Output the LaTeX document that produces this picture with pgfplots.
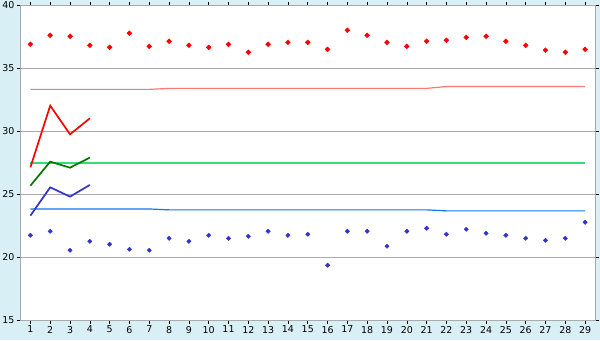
\documentclass[border=0pt]{standalone}
\usepackage{fontspec}
\setmainfont{DejaVu Sans}
\usepackage{pgfplots}
\pgfplotsset{compat=1.18}
\definecolor{bgblue}{HTML}{D9EFF6}
\definecolor{gridgray}{HTML}{AAAAAA}
\definecolor{mred}{HTML}{FF0000}
\definecolor{mblue}{HTML}{3333CC}
\definecolor{lpink}{HTML}{FF7777}
\definecolor{lgreen}{HTML}{33DD77}
\definecolor{lblue}{HTML}{1177EE}
\definecolor{dgreen}{HTML}{007700}
\begin{document}
\begin{tikzpicture}[x=1bp,y=1bp]
\fill[bgblue] (0,0) rectangle (600,340);
\path[use as bounding box] (0,0) rectangle (600,340);
\begin{axis}[
  at={(20.5bp,20bp)}, anchor=south west,
  scale only axis, width=574.5bp, height=314.7bp,
  xmin=0.5, xmax=29.5, ymin=15, ymax=40,
  xtick={1,...,29}, ytick={15,20,25,30,35,40},
  axis background/.style={fill=white},
  axis line style={gridgray, line width=1pt},
  tick style={black, line width=0.6pt},
  tick align=outside, major tick length=3.5bp,
  ymajorgrids, grid style={gridgray, line width=0.8pt},
  tick label style={font=\fontsize{9.5}{10}\selectfont},
  /pgf/number format/assume math mode=true,
  xticklabel style={yshift=1bp},
  yticklabel style={xshift=1bp},
  clip=false,
]
% horizontal reference lines
\addplot[lpink, line width=1.2pt] coordinates {(1,33.32) (7,33.32) (8,33.40) (21,33.40) (22,33.55) (29,33.55)};
\addplot[lgreen, line width=1.2pt] coordinates {(1,27.47) (29,27.47)};
\addplot[lblue, line width=1.2pt] coordinates {(1,23.82) (7,23.82) (8,23.75) (21,23.75) (22,23.67) (29,23.67)};
% short lines
\addplot[mred, line width=1.7pt] coordinates {(1,27.13) (2,32.03) (3,29.75) (4,31.02)};
\addplot[dgreen, line width=1.7pt] coordinates {(1,25.67) (2,27.58) (3,27.10) (4,27.90)};
\addplot[mblue, line width=1.7pt] coordinates {(1,23.29) (2,25.54) (3,24.80) (4,25.73)};
% markers
\addplot[only marks, mark=square*, mark size=1.75pt, mark options={rotate=45}, mred] coordinates {
(1,36.90) (2,37.62) (3,37.54) (4,36.82) (5,36.66) (6,37.78) (7,36.74) (8,37.14) (9,36.82)
(10,36.66) (11,36.90) (12,36.27) (13,36.90) (14,37.06) (15,37.06) (16,36.50) (17,38.01) (18,37.62) (19,37.06)
(20,36.74) (21,37.14) (22,37.22) (23,37.46) (24,37.54) (25,37.14) (26,36.82) (27,36.43) (28,36.27) (29,36.50)};
\addplot[only marks, mark=square*, mark size=1.55pt, mark options={rotate=45}, mblue] coordinates {
(1,21.73) (2,22.05) (3,20.54) (4,21.25) (5,21.02) (6,20.62) (7,20.54) (8,21.49) (9,21.25)
(10,21.73) (11,21.49) (12,21.65) (13,22.05) (14,21.73) (15,21.81) (16,19.35) (17,22.05) (18,22.05) (19,20.86)
(20,22.05) (21,22.29) (22,21.81) (23,22.21) (24,21.89) (25,21.73) (26,21.49) (27,21.33) (28,21.49) (29,22.76)};
\end{axis}
\end{tikzpicture}
\end{document}
